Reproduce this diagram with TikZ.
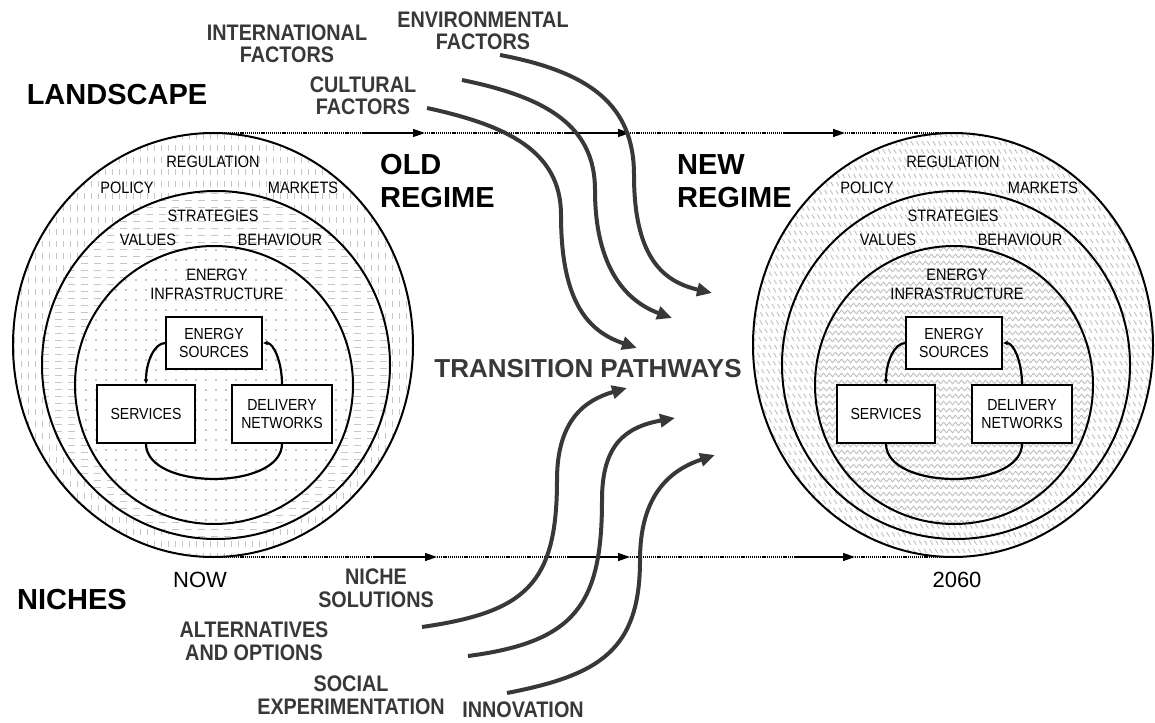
\documentclass[tikz,border=0pt]{standalone}
\usepackage{fontspec}
\setmainfont{Liberation Sans}
\newfontfamily\condf{Liberation Sans}[FakeStretch=0.88]
\usetikzlibrary{arrows.meta,decorations.pathmorphing}
\definecolor{ink}{HTML}{383838}
\definecolor{patL}{HTML}{C6C6C6}
\definecolor{patR}{HTML}{C0C0C0}
\begin{document}
\begin{tikzpicture}[x=1pt,y=-1pt,
  ring/.style={line width=2pt},
  box/.style={draw,line width=1.4pt,fill=white,inner sep=0pt,align=center,font=\condf\fontsize{16}{17.5}\selectfont},
  inlab/.style={inner sep=0pt,align=center,font=\condf\fontsize{16.5}{19}\selectfont},
  big/.style={inner sep=0pt,align=left,font=\fontsize{29}{33}\selectfont\bfseries},
  factor/.style={inner sep=0pt,align=center,text=ink,font=\condf\fontsize{22.5}{22.5}\selectfont\bfseries},
  plainlab/.style={inner sep=0pt,font=\fontsize{22}{22}\selectfont},
  flow/.style={line width=4pt,draw=ink,-{Triangle[length=15pt,width=13pt]}},
  tld/.style={line width=1.3pt,dash pattern=on 1.2pt off 0.9pt},
  tla/.style={line width=1.3pt,-{Triangle[length=12pt,width=8pt]}},
  cyc/.style={line width=2.2pt}
]
\useasboundingbox (0,0) rectangle (1155,722);

% ---------- left patterns ----------
\begin{scope}
  \clip (213,345) ellipse [x radius=200, y radius=212];
  \foreach \x in {14,21,...,414} \draw[patL,line width=1pt,dash pattern=on 6pt off 6pt] (\x,133) -- (\x,557);
\end{scope}
\fill[white] (216,365) circle [radius=174];
\begin{scope}
  \clip (216,365) circle [radius=174];
  \foreach \y in {193,200,...,539} \draw[patL,line width=1pt,dash pattern=on 7pt off 6pt] (42,\y) -- (390,\y);
\end{scope}
\fill[white] (214,385) circle [radius=139];
\begin{scope}
  \clip (214,385) circle [radius=139];
  \foreach \y in {250,260,...,525} \draw[patL,line width=1.6pt,dash pattern=on 1.6pt off 8.4pt] (75,\y) -- (355,\y);
\end{scope}

% ---------- right patterns ----------
\begin{scope}
  \clip (953,345) ellipse [x radius=200, y radius=212];
  \foreach \c in {499,504.5,...,1155} \draw[patR,line width=0.9pt,dash pattern=on 5pt off 4.5pt] (\c,133) -- (\c+254,557);
\end{scope}
\fill[white] (954,385) circle [radius=139];
\begin{scope}
  \clip (954,385) circle [radius=139];
  \foreach \y in {249,256,...,526} \draw[patR,line width=0.9pt,decorate,decoration={zigzag,segment length=6pt,amplitude=1.8pt}] (810,\y) -- (1100,\y);
\end{scope}

% ---------- regime diagrams ----------
\foreach \dx/\p in {0/L,740/R}{
  \begin{scope}[xshift=\dx pt]
    \draw[ring] (213,345) ellipse [x radius=200, y radius=212];
    \draw[ring] (216,365) circle [radius=174];
    \draw[ring] (214,385) circle [radius=139];
    \node[box,minimum width=96pt,minimum height=52pt] (\p ES) at (214,343) {ENERGY\\SOURCES};
    \node[box,minimum width=98pt,minimum height=58pt] (\p SV) at (146,414) {SERVICES};
    \node[box,minimum width=100pt,minimum height=58pt] (\p DN) at (282,414) {DELIVERY\\NETWORKS};
    \draw[cyc,-{Latex[length=5pt,width=5pt]}] (\p ES.west) .. controls +(-11,0) and +(0,-22) .. (\p SV.north);
    \draw[cyc,{Latex[length=5pt,width=5pt]}-] (\p ES.east) .. controls +(11,0) and +(0,-22) .. (\p DN.north);
    \draw[cyc] (\p SV.south) .. controls +(0,47) and +(0,47) .. (\p DN.south);
    \node[inlab] (\p reg) at (213,162) {REGULATION};
    \node[inlab] (\p pol) at (127,188) {POLICY};
    \node[inlab] (\p mkt) at (303,188) {MARKETS};
    \node[inlab] (\p str) at (213,216) {STRATEGIES};
    \node[inlab] (\p val) at (148,240) {VALUES};
    \node[inlab] (\p beh) at (280,240) {BEHAVIOUR};
    \node[inlab] (\p inf) at (217,284) {ENERGY\\INFRASTRUCTURE};
  \end{scope}
}

% ---------- time lines ----------
\coordinate (LT) at (213,133);  \coordinate (RT) at (953,133);
\coordinate (t1s) at (363,133); \coordinate (t1) at (425,133);
\coordinate (t2s) at (565,133); \coordinate (t2) at (630,133);
\coordinate (t3s) at (783,133); \coordinate (t3) at (845,133);
\draw[tld] (LT) -- (t1s); \draw[tla] (t1s) -- (t1);
\draw[tld] (t1) -- (t2s); \draw[tla] (t2s) -- (t2);
\draw[tld] (t2) -- (t3s); \draw[tla] (t3s) -- (t3);
\draw[tld] (t3) -- (RT);

\coordinate (LB) at (213,557);  \coordinate (RB) at (953,557);
\coordinate (b1s) at (373,557); \coordinate (b1) at (437,557);
\coordinate (b2s) at (568,557); \coordinate (b2) at (630,557);
\coordinate (b3s) at (795,557); \coordinate (b3) at (855,557);
\draw[tld] (LB) -- (b1s); \draw[tla] (b1s) -- (b1);
\draw[tld] (b1) -- (b2s); \draw[tla] (b2s) -- (b2);
\draw[tld] (b2) -- (b3s); \draw[tla] (b3s) -- (b3);
\draw[tld] (b3) -- (RB);

% ---------- labels ----------
\node[big] (land) at (117,95) {LANDSCAPE};
\node[big] (nich) at (72,600) {NICHES};
\node[big,anchor=west] (oldr) at (380,181) {OLD\\REGIME};
\node[big,anchor=west] (newr) at (677,181) {NEW\\REGIME};
\node[inner sep=0pt,text=ink,font=\fontsize{26}{26}\selectfont\bfseries] (tp) at (588,369) {TRANSITION PATHWAYS};

\node[factor] (intf) at (287,44) {INTERNATIONAL\\FACTORS};
\node[factor] (envf) at (483,31) {ENVIRONMENTAL\\FACTORS};
\node[factor] (culf) at (363,96) {CULTURAL\\FACTORS};
\node[factor] (nsol) at (376,588) {NICHE\\SOLUTIONS};
\node[factor] (alt) at (254,641) {ALTERNATIVES\\AND OPTIONS};
\node[factor] (soc) at (351,695) {SOCIAL\\EXPERIMENTATION};
\node[factor] (inn) at (523,710) {INNOVATION};
\node[plainlab] (now) at (200,580) {NOW};
\node[plainlab] (y2060) at (957,580) {2060};

% ---------- pathway arrows ----------
\coordinate (a1s) at (427,108); \coordinate (a1e) at (637,348);
\coordinate (a2s) at (462,80);  \coordinate (a2e) at (672,318);
\coordinate (a3s) at (500,55);  \coordinate (a3e) at (712,293);
\draw[flow] (a1s) .. controls (505,125) and (561,150) .. (561,215) .. controls (561,305) and (590,332) .. (a1e);
\draw[flow] (a2s) .. controls (545,97) and (595,125) .. (595,190) .. controls (595,270) and (628,302) .. (a2e);
\draw[flow] (a3s) .. controls (590,72) and (634,105) .. (634,175) .. controls (634,260) and (665,282) .. (a3e);

\coordinate (d1s) at (422,627); \coordinate (d1e) at (627,388);
\coordinate (d2s) at (468,656); \coordinate (d2e) at (675,418);
\coordinate (d3s) at (507,693); \coordinate (d3e) at (715,455);
\draw[flow] (d1s) .. controls (525,612) and (557,585) .. (557,480) .. controls (557,420) and (585,400) .. (d1e);
\draw[flow] (d2s) .. controls (575,642) and (602,605) .. (602,500) .. controls (602,445) and (625,427) .. (d2e);
\draw[flow] (d3s) .. controls (600,675) and (640,650) .. (640,560) .. controls (640,495) and (670,470) .. (d3e);
\end{tikzpicture}
\end{document}
